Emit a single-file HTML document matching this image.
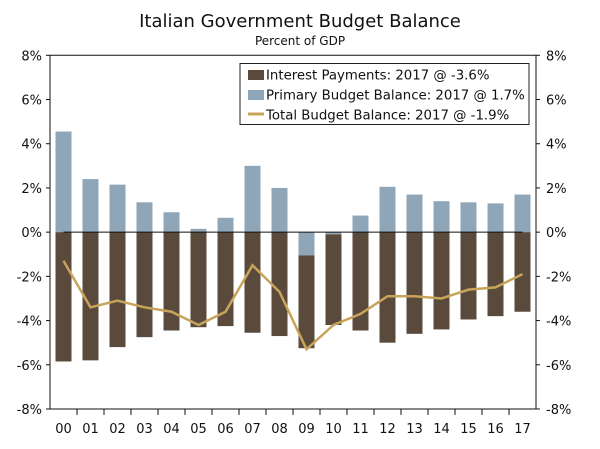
<!DOCTYPE html>
<html><head><meta charset="utf-8"><style>
body{margin:0;background:#fff;}
svg text{font-family:"DejaVu Sans","Liberation Sans",sans-serif;fill:#111;}
</style></head><body>
<svg id="chart" width="600" height="444" xmlns="http://www.w3.org/2000/svg">
<text x="300" y="27" text-anchor="middle" font-size="18">Italian Government Budget Balance</text>
<text x="300" y="45" text-anchor="middle" font-size="12">Percent of GDP</text>
<g id="plot"></g>
<g>
<rect x="240" y="63.5" width="289" height="61" fill="#fff" stroke="#222" stroke-width="1"/>
<rect x="248" y="70" width="16" height="10" fill="#5a4a3c"/>
<text x="266" y="79.5" font-size="13.3">Interest Payments: 2017 @ -3.6%</text>
<rect x="248" y="90" width="16" height="10" fill="#8ea6b8"/>
<text x="266" y="99.5" font-size="13.3">Primary Budget Balance: 2017 @ 1.7%</text>
<line x1="248" y1="114" x2="264" y2="114" stroke="#c8a45a" stroke-width="3"/>
<text x="266" y="119.5" font-size="13.3">Total Budget Balance: 2017 @ -1.9%</text>
</g>
</svg>
<script>
const categories=["00","01","02","03","04","05","06","07","08","09","10","11","12","13","14","15","16","17"];
const interest=[-5.85,-5.8,-5.2,-4.75,-4.45,-4.3,-4.25,-4.55,-4.7,-4.2,-4.1,-4.45,-5.0,-4.6,-4.4,-3.95,-3.8,-3.6];
const primary=[4.55,2.4,2.15,1.35,0.9,0.15,0.65,3.0,2.0,-1.05,-0.1,0.75,2.05,1.7,1.4,1.35,1.3,1.7];
const total=[-1.3,-3.4,-3.1,-3.4,-3.6,-4.2,-3.6,-1.5,-2.7,-5.3,-4.2,-3.7,-2.9,-2.9,-3.0,-2.6,-2.5,-1.9];
const ticks=[8,6,4,2,0,-2,-4,-6,-8];
const NS="http://www.w3.org/2000/svg";
const L=50,R=536,T=55.3,B=409;
const y=v=>T+(8-v)/16*(B-T);
const step=(R-L)/categories.length;
const xc=i=>L+step*(i+0.5);
const g=document.getElementById('plot');
function mk(tag,attrs){const e=document.createElementNS(NS,tag);for(const k in attrs)e.setAttribute(k,attrs[k]);g.appendChild(e);return e;}
const bw=16;
categories.forEach((c,i)=>{
  const p=primary[i];
  const r=mk('rect',{x:xc(i)-bw/2,y:Math.min(y(0),y(p)),width:bw,height:Math.abs(y(p)-y(0)),fill:'#8ea6b8'});
  
  
  const base=Math.min(p,0);
  const b=mk('rect',{x:xc(i)-bw/2,y:y(base),width:bw,height:y(base+interest[i])-y(base),fill:'#5a4a3c'});
  
  
  const t=mk('text',{x:xc(i),y:B+24,'text-anchor':'middle','font-size':'13'});
  t.textContent=c;
  
  
});
const z=mk('line',{x1:xc(0),x2:xc(categories.length-1),y1:y(0),y2:y(0),stroke:'#111','stroke-width':1});


const pl=mk('polyline',{points:total.map((v,i)=>xc(i)+','+y(v)).join(' '),fill:'none',stroke:'#c8a45a','stroke-width':2.5});


const ax=mk('path',{d:`M${L},${T}V${B}H${R}V${T}H${L}`,fill:'none',stroke:'#111','stroke-width':1});


ticks.forEach(v=>{
  mk('line',{x1:L-4,x2:L,y1:y(v),y2:y(v),stroke:'#111'});
  mk('line',{x1:R,x2:R+4,y1:y(v),y2:y(v),stroke:'#111'});
  const a=mk('text',{x:L-8,y:y(v)+5,'text-anchor':'end','font-size':'13'});a.textContent=v+'%';
  
  
  const b=mk('text',{x:R+10,y:y(v)+5,'font-size':'13'});b.textContent=v+'%';
  
  
});
for(let i=1;i<categories.length;i++){mk('line',{x1:L+step*i,x2:L+step*i,y1:B,y2:B+6,stroke:'#111'});}
</script>
</body></html>
